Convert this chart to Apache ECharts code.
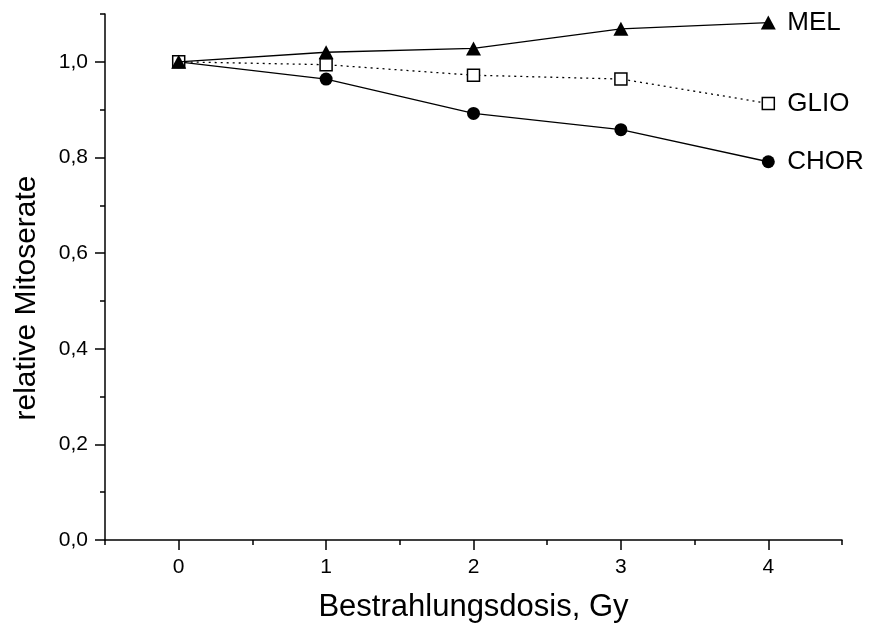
<!DOCTYPE html>
<html>
<head>
<meta charset="utf-8">
<script src="https://cdn.jsdelivr.net/npm/echarts@6/dist/echarts.min.js"></script>
<style>
  html, body { margin: 0; padding: 0; background: #fff; }
  #chart { width: 871px; height: 629px; }
</style>
</head>
<body>
<div id="chart"></div>
<script>
// Dosis (Gy)
const doses = [0, 1, 2, 3, 4]
// relative Mitoserate
const mel = [1.0, 1.02, 1.028, 1.069, 1.082]
const glio = [1.0, 0.994, 0.972, 0.964, 0.913]
const chor = [1.0, 0.964, 0.892, 0.858, 0.791]

const xMajor = [0, 1, 2, 3, 4]
const xMinor = [-0.5, 0.5, 1.5, 2.5, 3.5, 4.5]
const yMajor = [0, 0.2, 0.4, 0.6, 0.8, 1.0]
const yMinor = [0.1, 0.3, 0.5, 0.7, 0.9, 1.1]

const FONT = 'Liberation Sans, Arial, sans-serif'

const pairs = ys => doses.map((d, i) => [d, ys[i]])

const baseX = {
  type: 'value',
  min: -0.5,
  max: 4.5,
  splitLine: { show: false }
}
const baseY = {
  type: 'value',
  min: 0,
  max: 1.1,
  splitLine: { show: false }
}

function lineSeries(name, ys, symbol, size, dashed, hollow, z) {
  return {
    name: name,
    type: 'line',
    data: pairs(ys),
    symbol: symbol,
    symbolSize: size,
    showAllSymbol: true,
    lineStyle: { color: '#000', width: 1.3, type: dashed ? [2, 4] : 'solid' },
    itemStyle: hollow
      ? { color: '#fff', borderColor: '#000', borderWidth: 1.5 }
      : { color: '#000', borderWidth: 0 },
    endLabel: {
      show: true,
      formatter: name,
      distance: 19,
      color: '#000',
      fontFamily: FONT,
      fontSize: 26
    },
    emphasis: { disabled: true },
    z: z
  }
}

const chart = echarts.init(document.getElementById('chart'))
chart.setOption({
  animation: false,
  backgroundColor: '#fff',
  grid: { left: 105, right: 29, top: 14, bottom: 89 },
  xAxis: [
    {
      ...baseX,
      axisLine: { onZero: false, lineStyle: { color: '#000', width: 1.5 } },
      axisTick: { customValues: xMajor, length: 10, lineStyle: { color: '#000', width: 1.5 } },
      axisLabel: {
        customValues: xMajor,
        margin: 17,
        color: '#000',
        fontFamily: FONT,
        fontSize: 21
      },
      name: 'Bestrahlungsdosis, Gy',
      nameLocation: 'middle',
      nameGap: 52,
      nameTextStyle: { color: '#000', fontFamily: FONT, fontSize: 31 }
    },
    {
      ...baseX,
      position: 'bottom',
      axisLine: { show: false, onZero: false },
      axisTick: { customValues: xMinor, length: 5, lineStyle: { color: '#000', width: 1.5 } },
      axisLabel: { show: false }
    }
  ],
  yAxis: [
    {
      ...baseY,
      axisLine: { show: true, onZero: false, lineStyle: { color: '#000', width: 1.5 } },
      axisTick: { show: true, customValues: yMajor, length: 10, lineStyle: { color: '#000', width: 1.5 } },
      axisLabel: {
        customValues: yMajor,
        margin: 17,
        color: '#000',
        fontFamily: FONT,
        fontSize: 21,
        formatter: v => v.toFixed(1).replace('.', ',')
      }
    },
    {
      ...baseY,
      position: 'left',
      axisLine: { show: false, onZero: false },
      axisTick: { show: true, customValues: yMinor, length: 5, lineStyle: { color: '#000', width: 1.5 } },
      axisLabel: { show: false }
    }
  ],
  graphic: [
    {
      type: 'text',
      x: 27,
      y: 298,
      rotation: Math.PI / 2,
      style: {
        text: 'relative Mitoserate',
        fill: '#000',
        font: '30px ' + FONT,
        align: 'center',
        verticalAlign: 'middle'
      }
    }
  ],
  series: [
    lineSeries('CHOR', chor, 'circle', 13, false, false, 2),
    lineSeries('GLIO', glio, 'rect', 12, true, true, 3),
    lineSeries('MEL', mel, 'triangle', [15, 14], false, false, 4)
  ]
})
</script>
</body>
</html>
